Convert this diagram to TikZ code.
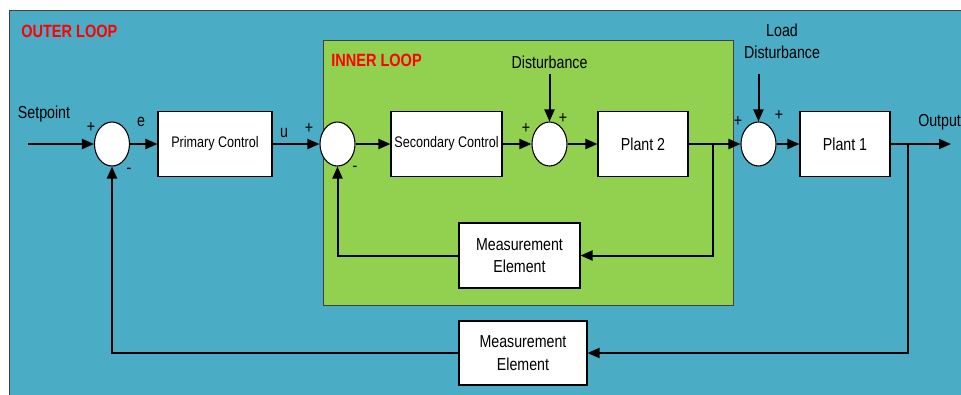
\documentclass[tikz,border=0pt]{standalone}
\usepackage{fontspec}
\setmainfont{Liberation Sans}[FakeStretch=0.82]
\usetikzlibrary{shapes.geometric,arrows.meta}
\definecolor{outerblue}{HTML}{4BACC6}
\definecolor{innergreen}{HTML}{92D050}
\begin{document}
\begin{tikzpicture}[x=0.75pt,y=-0.75pt,
  blk/.style={draw=black, line width=0.8pt, fill=white, inner sep=0pt, align=center, font=\fontsize{13}{16}\selectfont},
  smallblk/.style={blk, font=\fontsize{11.5}{14}\selectfont},
  sumj/.style={ellipse, draw=black, fill=white, line width=0.8pt, inner sep=0pt, minimum width=26.25pt, minimum height=33pt},
  sig/.style={font=\fontsize{13}{15}\selectfont, inner sep=0pt},
  lbl/.style={font=\fontsize{13}{16}\selectfont, inner sep=0pt, align=center},
  looptitle/.style={font=\bfseries\fontsize{13.3}{16}\selectfont, text=red, inner sep=0pt, anchor=west},
  conn/.style={line width=1.5pt, -{Triangle[length=9pt,width=7.5pt]}},
  plain/.style={line width=1.5pt}
]
\useasboundingbox (0,0) rectangle (961,394);
\clip (0,0) rectangle (961,394);
\fill[white] (0,0) rectangle (961,394);
\filldraw[fill=outerblue, draw=black!75, line width=0.6pt] (9,10) rectangle (980,410);
\filldraw[fill=innergreen, draw=black!75, line width=0.6pt] (323,40) rectangle (733,305);

\node[looptitle] (outert) at (21,31) {OUTER LOOP};
\node[looptitle] (innert) at (331,60) {INNER LOOP};

% junctions
\node[sumj] (s1) at (112,144) {};
\node[sumj] (s2) at (337.5,144) {};
\node[sumj] (s3) at (549.5,144) {};
\node[sumj] (s4) at (758.5,144) {};

% blocks
\node[smallblk, minimum width=85.5pt, minimum height=48.75pt] (pc) at (215,144) {Primary Control};
\node[smallblk, minimum width=83.25pt, minimum height=48.75pt] (sc) at (446.5,144) {Secondary Control};
\node[blk, minimum width=67.5pt, minimum height=48.75pt] (p2) at (643,144) {Plant 2};
\node[blk, minimum width=67.5pt, minimum height=48.75pt] (p1) at (845,144) {Plant 1};
\node[blk, minimum width=90.75pt, minimum height=48.75pt] (m1) at (519.5,255.5) {Measurement\\[1pt]Element};
\node[blk, minimum width=96pt, minimum height=48pt] (m2) at (523,353) {Measurement\\[1pt]Element};

% coordinates
\coordinate (sp) at (28,144);
\coordinate (b2) at (713,144);
\coordinate (b1) at (908,144);
\coordinate (out) at (951,144);
\coordinate (d1) at (549.5,74);
\coordinate (d2) at (758.5,74);

% connectors
\draw[conn] (sp) -- (s1.west);
\draw[conn] (s1.east) -- (pc.west);
\draw[conn] (pc.east) -- (s2.west);
\draw[conn] (s2.east) -- (sc.west);
\draw[conn] (sc.east) -- (s3.west);
\draw[conn] (s3.east) -- (p2.west);
\draw[conn] (p2.east) -- (s4.west);
\draw[conn] (s4.east) -- (p1.west);
\draw[conn] (p1.east) -- (out);
\draw[conn] (b2) |- (m1.east);
\draw[conn] (m1.west) -| (s2.south);
\draw[conn] (b1) |- (m2.east);
\draw[conn] (m2.west) -| (s1.south);
\draw[conn] (d1) -- (s3.north);
\draw[conn] (d2) -- (s4.north);

% labels
\node[lbl] (setpt) at (44,114) {Setpoint};
\node[lbl] (elbl) at (141,122) {e};
\node[lbl] (ulbl) at (284,133) {u};
\node[lbl] (dist) at (549.5,62) {Disturbance};
\node[lbl] (load) at (782,30) {Load};
\node[lbl] (ldist) at (782,52) {Disturbance};
\node[lbl, anchor=west] (outl) at (918,122) {Output};

\node[sig] (p1s) at (91,127) {+};
\node[sig] (m1s) at (129,171) {-};
\node[sig] (p2s) at (309,128) {+};
\node[sig] (m2s) at (355,169) {-};
\node[sig] (p3s) at (526,128) {+};
\node[sig] (p4s) at (563,118) {+};
\node[sig] (p5s) at (738,121) {+};
\node[sig] (p6s) at (779,115) {+};
\end{tikzpicture}
\end{document}
